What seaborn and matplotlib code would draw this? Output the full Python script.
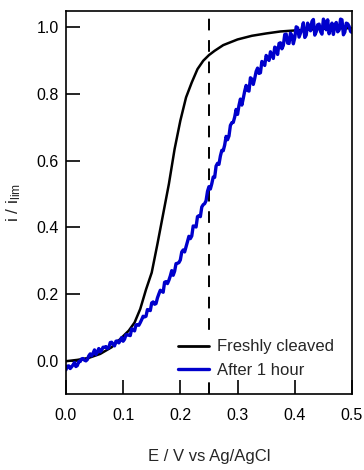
import numpy as np
import pandas as pd
import matplotlib
matplotlib.use("Agg")
import matplotlib.pyplot as plt
import seaborn as sns

# ---- data ----
fresh_E = [0.000, 0.020, 0.040, 0.060, 0.080, 0.100, 0.110, 0.120, 0.130, 0.140,
           0.150, 0.160, 0.170, 0.180, 0.190, 0.200, 0.210, 0.220, 0.230, 0.240,
           0.250, 0.260, 0.275, 0.300, 0.325, 0.350, 0.375, 0.400, 0.450, 0.500]
fresh_i = [-0.002, 0.002, 0.008, 0.020, 0.040, 0.073, 0.090, 0.114, 0.155, 0.213,
           0.264, 0.350, 0.440, 0.530, 0.635, 0.720, 0.790, 0.835, 0.875, 0.900,
           0.917, 0.930, 0.947, 0.964, 0.975, 0.982, 0.988, 0.991, 0.996, 0.998]

aged_E = [round(0.0025 * k, 4) for k in range(201)]
aged_i = [-0.028, -0.017, -0.016, -0.024, -0.019, -0.013, -0.006, -0.018, -0.015, -0.003,
          -0.003, 0.005, 0.006, 0.001, -0.001, 0.003, 0.014, 0.020, 0.014, 0.022,
          0.032, 0.018, 0.026, 0.036, 0.026, 0.031, 0.040, 0.040, 0.042, 0.036,
          0.039, 0.054, 0.055, 0.048, 0.044, 0.058, 0.059, 0.053, 0.060, 0.069,
          0.058, 0.064, 0.077, 0.078, 0.076, 0.075, 0.095, 0.093, 0.089, 0.107,
          0.108, 0.106, 0.114, 0.123, 0.133, 0.131, 0.133, 0.153, 0.152, 0.150,
          0.173, 0.176, 0.169, 0.171, 0.188, 0.200, 0.211, 0.208, 0.205, 0.235,
          0.237, 0.231, 0.241, 0.254, 0.270, 0.256, 0.268, 0.291, 0.292, 0.294,
          0.302, 0.326, 0.332, 0.326, 0.341, 0.357, 0.373, 0.366, 0.374, 0.404,
          0.403, 0.401, 0.432, 0.435, 0.432, 0.461, 0.468, 0.471, 0.480, 0.508,
          0.522, 0.515, 0.531, 0.551, 0.550, 0.584, 0.592, 0.589, 0.614, 0.631,
          0.630, 0.647, 0.673, 0.663, 0.674, 0.706, 0.714, 0.715, 0.731, 0.754,
          0.739, 0.766, 0.785, 0.767, 0.787, 0.809, 0.826, 0.811, 0.809, 0.849,
          0.845, 0.829, 0.847, 0.868, 0.878, 0.862, 0.864, 0.898, 0.894, 0.886,
          0.916, 0.907, 0.901, 0.927, 0.917, 0.907, 0.941, 0.938, 0.919, 0.952,
          0.954, 0.936, 0.946, 0.979, 0.980, 0.953, 0.952, 0.983, 0.976, 0.951,
          0.969, 1.002, 0.999, 0.971, 0.983, 0.995, 1.014, 0.970, 0.977, 1.013,
          0.999, 0.990, 1.018, 1.024, 0.977, 0.987, 1.008, 1.010, 0.988, 0.980,
          1.025, 1.016, 0.993, 1.023, 0.981, 0.996, 1.013, 0.979, 1.007, 1.015,
          0.987, 0.992, 1.025, 1.023, 0.978, 0.986, 1.013, 1.011, 1.003, 0.988,
          0.985]

labels = ["Freshly cleaved", "After 1 hour"]
colors = ["#000000", "#0000cc"]
marker_E = 0.25
x_ticks = [0.0, 0.1, 0.2, 0.3, 0.4, 0.5]
y_ticks = [0.0, 0.2, 0.4, 0.6, 0.8, 1.0]

df = pd.concat([
    pd.DataFrame({"E": fresh_E, "i": fresh_i, "sample": labels[0]}),
    pd.DataFrame({"E": aged_E, "i": aged_i, "sample": labels[1]}),
], ignore_index=True)

sns.set_style("ticks")
plt.rcParams["font.family"] = ["Liberation Sans", "DejaVu Sans"]
plt.rcParams["mathtext.fontset"] = "custom"
plt.rcParams["mathtext.rm"] = "Liberation Sans"
plt.rcParams["mathtext.it"] = "Liberation Sans"

fig = plt.figure(figsize=(3.64, 4.70), dpi=100)
ax = fig.add_axes([0.181, 0.162, 0.786, 0.815])

ax.axvline(marker_E, color="black", lw=1.4, dashes=(6, 5), zorder=1)
sns.lineplot(data=df, x="E", y="i", hue="sample", palette=colors,
             hue_order=labels, estimator=None, sort=False, ax=ax,
             linewidth=2.0, zorder=2)
for ln, w in zip(ax.get_lines()[1:3], [1.8, 2.4]):
    ln.set_linewidth(w)

ax.set_xlim(0.0, 0.5)
ax.set_ylim(-0.1, 1.05)
ax.set_xticks(x_ticks)
ax.set_yticks(y_ticks)
ax.set_xticklabels([f"{v:.1f}" for v in x_ticks])
ax.set_yticklabels([f"{v:.1f}" for v in y_ticks])
ax.tick_params(direction="in", length=10, width=1.2, labelsize=11.5, colors="black")
ax.tick_params(axis="x", pad=10)
ax.tick_params(axis="y", pad=5)
for s in ax.spines.values():
    s.set_visible(True)
    s.set_linewidth(1.2)
    s.set_color("black")

ax.set_xlabel("E / V vs Ag/AgCl", fontsize=12, labelpad=19)
ax.set_ylabel(r"i / i$_{\mathrm{lim}}$", fontsize=12.5, labelpad=10)

leg = ax.legend(loc="lower left", bbox_to_anchor=(0.36, 0.018), frameon=True,
                fontsize=12, handlelength=1.85, handletextpad=0.5,
                labelspacing=0.5, borderpad=0.05, borderaxespad=0.5, title=None,
                facecolor="white", edgecolor="none", framealpha=1.0,
                fancybox=False)
for h, w in zip(leg.get_lines(), [2.0, 2.4]):
    h.set_linewidth(w)
ax.xaxis.set_zorder(6)

fig.savefig("out.png", dpi=100)
